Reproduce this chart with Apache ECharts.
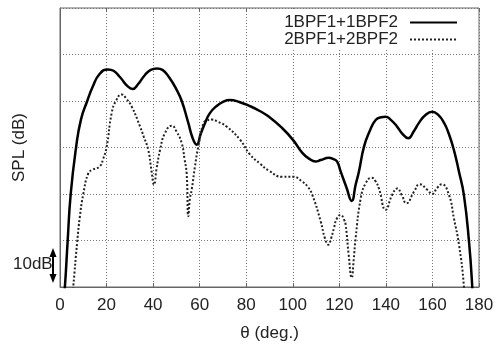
<!DOCTYPE html>
<html>
<head>
<meta charset="utf-8">
<script src="https://cdn.jsdelivr.net/npm/echarts@6/dist/echarts.min.js"></script>
<style>html,body{margin:0;padding:0;background:#fff;}#c{width:498px;height:347px;}</style>
</head>
<body>
<div id="c"></div>
<script>
// Tick labels
var xTicks = [0, 20, 40, 60, 80, 100, 120, 140, 160, 180];
// Series 1: 1BPF1+1BPF2 (solid)
var thetaSolid = [0.5,2.1,3.3,4.6,6.9,9,11.7,14,17,20.6,23,26,29,31.2,33.5,36.5,39,41.7,44,47,50,52.3,55,57,58.7,60.5,62.5,64.4,67,70,73,77,81.6,86,89.8,95.4,100,104,107,109.8,112,115.5,117.5,119,120.6,123,125.3,127,128.4,130.6,133,135.6,138,139.9,142,144.8,147,149.6,152,154.2,157,159.9,162.5,165,167,169.2,171.4,173.5,175.7,177.1,178];
var splSolid   = [-10,0,10,20,30,36,40,43,45.8,46.8,46.5,45,43.2,42.6,43.6,45.6,46.7,47,46.7,45,42.5,40,35.5,32,30.6,33,35.5,37.4,38.8,39.8,40.2,39.8,38.9,37.8,36.6,34.2,31.7,28.9,27.6,27,27.3,27.8,27.5,27,24.8,21.5,18.5,22,24.8,30.2,33.5,35.9,36.5,36.6,36,34.5,33,32,33.5,35.3,37,37.7,37,35.3,33,29.5,24.8,19.8,9.8,0,-10];
// Series 2: 2BPF1+2BPF2 (dotted)
var thetaDot = [4,5.7,7.4,8.5,10,12.2,14,17.2,18.5,20,22.2,24,26.5,28.5,30.8,34.4,36,37.9,39.3,40.4,41.5,43,45,48,50,52.3,53.5,54.4,55.1,55.8,56.6,58,59.4,61.6,63,65.2,68,71.6,77.3,81.6,86,89.8,95.5,100.2,104,106.5,108.4,112,113.8,115.3,116.5,117.7,119,120.6,122,122.7,124,125.3,126.2,127,129.2,131.3,133.9,135.5,137,139.9,142.7,144.9,146.8,148.8,152.1,154.5,157.8,159.9,162,164,167.1,169.2,171.4,173.5,174.5];
var splDot   = [-10,0,9.8,15,20,24.5,25.2,26,27.5,30,37.4,40,41.4,40.5,38.8,34.5,32.3,29.5,25,22,25.5,29.5,33,34.7,33.5,30.9,27.5,24.5,15.2,19,21,26,30.2,35.2,35.8,36,35.5,34.5,31.7,28.5,26.5,25,23.7,23.7,22.7,21.5,19.8,14.1,10.5,9.1,10.5,12.7,14.8,15.5,14.5,13.4,7,2,6,10.5,19.1,22.3,23.5,22.8,21.2,16.6,19.8,21.2,19.8,18,20.5,22.1,20.9,20,21.3,22.1,19.8,14.8,9.1,0.2,-10];
var seriesNames = ['1BPF1+1BPF2', '2BPF1+2BPF2'];

function zip(a, b) { return a.map(function (v, i) { return [v, b[i]]; }); }

var FONT = 'Liberation Sans';
var FS = 17;
var chart = echarts.init(document.getElementById('c'), null, { renderer: 'canvas' });
var gridLine = { show: true, lineStyle: { color: '#777', type: [1, 2], width: 1 } };
chart.setOption({
  animation: false,
  backgroundColor: '#fff',
  textStyle: { fontFamily: FONT },
  grid: { left: 60, right: 19, top: 8, bottom: 59, show: true, borderColor: '#666', borderWidth: 1, backgroundColor: 'transparent' },
  xAxis: [{
    type: 'value', min: 0, max: 180, interval: 20,
    name: 'θ (deg.)', nameLocation: 'middle', nameGap: 38,
    nameTextStyle: { fontSize: FS, color: '#222', fontFamily: FONT },
    axisLine: { show: true, lineStyle: { color: '#666' } },
    axisTick: { show: true, inside: true, length: 4, lineStyle: { color: '#666' } },
    axisLabel: { fontSize: FS, color: '#222', margin: 10, fontFamily: FONT },
    splitLine: gridLine
  }, {
    type: 'value', min: 0, max: 180, interval: 20, position: 'top',
    axisLine: { show: false },
    axisTick: { show: true, inside: true, length: 4, lineStyle: { color: '#666' } },
    axisLabel: { show: false }, splitLine: { show: false }
  }],
  yAxis: {
    type: 'value', min: 0, max: 60, interval: 10,
    name: 'SPL (dB)', nameLocation: 'middle', nameGap: 32,
    nameTextStyle: { fontSize: FS, color: '#222', fontFamily: FONT },
    axisLine: { show: true, lineStyle: { color: '#666' } },
    axisTick: { show: false },
    axisLabel: { show: false },
    splitLine: gridLine
  },
  legend: {
    orient: 'vertical', right: 20, top: 9, align: 'right',
    padding: [5, 20, 2, 9], backgroundColor: '#fff',
    itemWidth: 47, itemHeight: 14, itemGap: 0,
    itemStyle: { opacity: 0 },
    textStyle: { fontSize: FS, color: '#222', lineHeight: 14, fontFamily: FONT, padding: [0, 7, 0, 0] },
    data: seriesNames,
    z: 10
  },
  series: [{
    name: seriesNames[0], type: 'line', data: zip(thetaSolid, splSolid),
    smooth: 0.5, symbol: 'none', clip: true,
    lineStyle: { color: '#000', width: 2.5 }, itemStyle: { color: '#000' }
  }, {
    name: seriesNames[1], type: 'line', data: zip(thetaDot, splDot),
    smooth: 0.5, symbol: 'none', clip: true,
    lineStyle: { color: '#222', width: 2, type: [2, 2] }, itemStyle: { color: '#222' }
  }],
  graphic: [
    { type: 'text', left: 13, top: 256, z: 5, style: { text: '10dB', font: FS + 'px "Liberation Sans"', fill: '#222' } },
    { type: 'line', z: 6, shape: { x1: 53, y1: 254, x2: 53, y2: 277 }, style: { stroke: '#000', lineWidth: 2 } },
    { type: 'polygon', z: 6, shape: { points: [[53, 248], [49.5, 257], [56.5, 257]] }, style: { fill: '#000' } },
    { type: 'polygon', z: 6, shape: { points: [[53, 283], [49.5, 274], [56.5, 274]] }, style: { fill: '#000' } }
  ]
});
</script>
</body>
</html>
